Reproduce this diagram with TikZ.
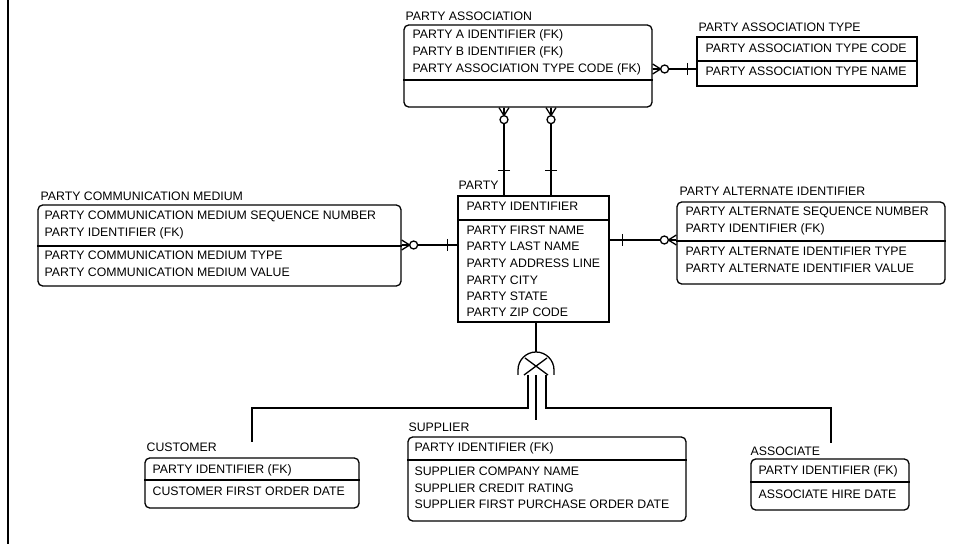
\documentclass[tikz,border=0pt]{standalone}
\usepackage{fontspec}
\setmainfont{Liberation Sans}
\usepackage{tikz}
\usetikzlibrary{fit, calc}

\begin{document}
\begin{tikzpicture}[x=0.03cm,y=-0.03cm,line width=1.1pt,
	dep/.style={draw,rounded corners=4pt,inner sep=0pt},
	indep/.style={draw,inner sep=0pt},
	ttl/.style={anchor=base west,inner sep=0pt,font=\fontsize{10.5}{12}\selectfont},
	attr/.style={anchor=base west,inner sep=0pt,font=\fontsize{10.5}{12}\selectfont},
	zmany/.pic={\draw (0,-5)--(8,0)--(0,5) (0,0)--(8,0);
		\draw[fill=white] (12,0) circle[radius=4];},
	one/.pic={\draw (0,-6)--(0,6);}]
\useasboundingbox (0,0) rectangle (974,544);
\draw (8,0) -- (8,544);
% entities
\node[dep,fit={(404,25) (652,107)}] (pa) {};
\node[ttl] (paT) at (405,21) {PARTY ASSOCIATION};
\draw (pa.west |- 0,80) -- (pa.east |- 0,80);
\foreach \t/\y [count=\i] in {PARTY A IDENTIFIER (FK)/39,PARTY B IDENTIFIER (FK)/56,
	PARTY ASSOCIATION TYPE CODE (FK)/73}\node[attr] (pa\i) at (412,\y) {\t};
\node[indep,fit={(697,37) (917,86)}] (pat) {};
\node[ttl] (patT) at (698,32) {PARTY ASSOCIATION TYPE};
\draw (pat.west |- 0,61) -- (pat.east |- 0,61);
\foreach \t/\y [count=\i] in {PARTY ASSOCIATION TYPE CODE/53,
	PARTY ASSOCIATION TYPE NAME/76}\node[attr] (pat\i) at (705,\y) {\t};
\node[dep,fit={(38,205) (401,286)}] (pcm) {};
\node[ttl] (pcmT) at (40,201) {PARTY COMMUNICATION MEDIUM};
\draw (pcm.west |- 0,246) -- (pcm.east |- 0,246);
\foreach \t/\y [count=\i] in {PARTY COMMUNICATION MEDIUM SEQUENCE NUMBER/220,
	PARTY IDENTIFIER (FK)/237,PARTY COMMUNICATION MEDIUM TYPE/260,
	PARTY COMMUNICATION MEDIUM VALUE/277}\node[attr] (pcm\i) at (44,\y) {\t};
\node[indep,fit={(458,196) (609,322)}] (party) {};
\node[ttl] (partyT) at (458,190) {PARTY};
\draw (party.west |- 0,220) -- (party.east |- 0,220);
\foreach \t/\y [count=\i] in {PARTY IDENTIFIER/211,PARTY FIRST NAME/235,
	PARTY LAST NAME/251,PARTY ADDRESS LINE/268,PARTY CITY/285,PARTY STATE/301,
	PARTY ZIP CODE/317}\node[attr] (party\i) at (466,\y) {\t};
\node[dep,fit={(677,202) (945,284)}] (pai) {};
\node[ttl] (paiT) at (679,196) {PARTY ALTERNATE IDENTIFIER};
\draw (pai.west |- 0,241) -- (pai.east |- 0,241);
\foreach \t/\y [count=\i] in {PARTY ALTERNATE SEQUENCE NUMBER/216,
	PARTY IDENTIFIER (FK)/233,PARTY ALTERNATE IDENTIFIER TYPE/256,
	PARTY ALTERNATE IDENTIFIER VALUE/273}\node[attr] (pai\i) at (685,\y) {\t};
\node[dep,fit={(145,458) (359,508)}] (cust) {};
\node[ttl] (custT) at (146,452) {CUSTOMER};
\draw (cust.west |- 0,480) -- (cust.east |- 0,480);
\foreach \t/\y [count=\i] in {PARTY IDENTIFIER (FK)/473,
	CUSTOMER FIRST ORDER DATE/495}\node[attr] (cust\i) at (152,\y) {\t};
\node[dep,fit={(408,437) (686,521)}] (supp) {};
\node[ttl] (suppT) at (408,431) {SUPPLIER};
\draw (supp.west |- 0,460) -- (supp.east |- 0,460);
\foreach \t/\y [count=\i] in {PARTY IDENTIFIER (FK)/452,SUPPLIER COMPANY NAME/475,
	SUPPLIER CREDIT RATING/492,SUPPLIER FIRST PURCHASE ORDER DATE/508}
	\node[attr] (supp\i) at (414,\y) {\t};
\node[dep,fit={(751,459) (909,510)}] (assoc) {};
\node[ttl] (assocT) at (750,455) {ASSOCIATE};
\draw (assoc.west |- 0,482) -- (assoc.east |- 0,482);
\foreach \t/\y [count=\i] in {PARTY IDENTIFIER (FK)/474,
	ASSOCIATE HIRE DATE/498}\node[attr] (assoc\i) at (758,\y) {\t};
% relationships
\draw (pa.east |- 0,69) -- (pat.west |- 0,69);
\pic at (pa.east |- 0,69) {zmany};
\pic at ($(pat.west |- 0,69)+(-9,0)$) {one};
\foreach \x in {504,551}{
	\draw (pa.south -| \x,0) -- (party.north -| \x,0);
	\pic[rotate=-90] at (pa.south -| \x,0) {zmany};
	\pic[rotate=-90] at ($(party.north -| \x,0)+(0,-25)$) {one};
}
\draw (pcm.east |- 0,245) -- (party.west |- 0,245);
\pic at (pcm.east |- 0,245) {zmany};
\pic at ($(party.west |- 0,245)+(-10,0)$) {one};
\draw (party.east |- 0,240) -- (pai.west |- 0,240);
\pic[rotate=180] at (pai.west |- 0,240) {zmany};
\pic at ($(party.east |- 0,240)+(13,0)$) {one};
% categorization
\coordinate (gen) at (536,370);
\coordinate (genL) at (528,375);
\coordinate (genM) at (536,375);
\coordinate (genR) at (546,375);
\coordinate (custC) at (252,442);
\coordinate (suppC) at (536,420);
\coordinate (assocC) at (831,443);
\draw (party.south -| gen) -- ($(gen)+(0,-18)$);
\draw ($(gen)+(-18,5)$) -- ($(gen)+(-18,0)$) arc[start angle=180,end angle=360,radius=18]
	-- ($(gen)+(18,5)$);
\draw ($(gen)+(-12,5)$) -- ($(gen)+(11,-12)$) ($(gen)+(12,5)$) -- ($(gen)+(-11,-12)$);
\draw (genL) -- ++(0,33) -| (custC);
\draw (genR) -- ++(0,33) -| (assocC);
\draw (genM) -- (suppC);
\end{tikzpicture}
\end{document}
